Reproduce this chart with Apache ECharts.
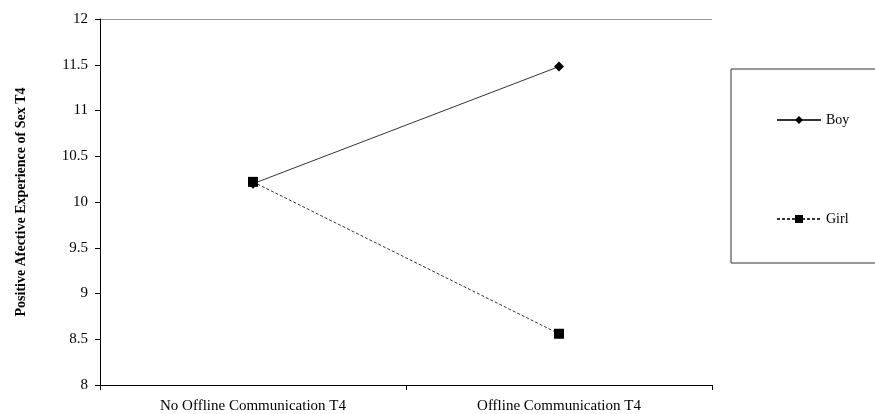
<!DOCTYPE html>
<html>
<head>
<meta charset="utf-8">
<script src="https://cdn.jsdelivr.net/npm/echarts@6/dist/echarts.min.js"></script>
<style>
  html, body { margin: 0; padding: 0; background: #fff; }
  #chart { width: 875px; height: 414px; }
</style>
</head>
<body>
<div id="chart"></div>
<script>
const categories = ['No Offline Communication T4', 'Offline Communication T4'];
const boyValues = [10.2, 11.48];
const girlValues = [10.22, 8.56];

const font = 'Liberation Serif';
const chart = echarts.init(document.getElementById('chart'));

chart.setOption({
    animation: false,
    grid: { left: 100, right: 163, top: 19, bottom: 29 },
    graphic: [{
        type: 'rect',
        shape: { x: 731, y: 69, width: 150, height: 194 },
        style: { fill: '#fff', stroke: '#333', lineWidth: 1 }
    }],
    legend: {
        orient: 'vertical',
        left: 771,
        top: 108,
        itemGap: 85,
        itemWidth: 44,
        itemHeight: 10,
        textStyle: { fontFamily: font, fontSize: 14, color: '#000' },
        data: ['Boy', 'Girl']
    },
    xAxis: {
        type: 'category',
        data: categories,
        boundaryGap: true,
        axisLine: { lineStyle: { color: '#000' } },
        axisTick: { show: true, length: 5, lineStyle: { color: '#000' } },
        axisLabel: { fontFamily: font, fontSize: 15, color: '#000', margin: 14 }
    },
    yAxis: {
        type: 'value',
        min: 8,
        max: 12,
        interval: 0.5,
        name: 'Positive Afective Experience of Sex T4',
        nameLocation: 'middle',
        nameGap: 72,
        nameTextStyle: { fontFamily: font, fontSize: 14, fontWeight: 'bold', color: '#000' },
        axisLine: { show: true, lineStyle: { color: '#000' } },
        axisTick: { show: true, length: 5, lineStyle: { color: '#000' } },
        axisLabel: { fontFamily: font, fontSize: 15, color: '#000', margin: 12 },
        splitLine: {
            show: true,
            lineStyle: {
                color: ['transparent', 'transparent', 'transparent', 'transparent', 'transparent',
                        'transparent', 'transparent', 'transparent', '#999']
            }
        }
    },
    series: [
        {
            name: 'Boy',
            type: 'line',
            data: boyValues,
            symbol: 'diamond',
            symbolSize: 10,
            itemStyle: { color: '#000' },
            lineStyle: { color: '#333', width: 1 }
        },
        {
            name: 'Girl',
            type: 'line',
            data: girlValues,
            symbol: 'rect',
            symbolSize: 10,
            itemStyle: { color: '#000' },
            lineStyle: { color: '#333', width: 1, type: [3, 2] }
        }
    ]
});
</script>
</body>
</html>
